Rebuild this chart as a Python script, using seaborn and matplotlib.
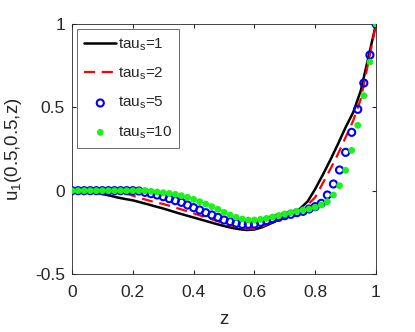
import numpy as np
import pandas as pd
import matplotlib
matplotlib.use("Agg")
import matplotlib.pyplot as plt
import seaborn as sns

# lines (tau_s = 1, 2)
z_line = [0, 0.025, 0.05, 0.075, 0.1, 0.125, 0.15, 0.175, 0.2, 0.225, 0.25, 0.275, 0.3, 0.325,
          0.35, 0.375, 0.4, 0.425, 0.45, 0.475, 0.5, 0.525, 0.55, 0.575, 0.6, 0.625, 0.65,
          0.675, 0.7, 0.725, 0.75, 0.775, 0.8, 0.825, 0.85, 0.875, 0.9, 0.925, 0.95, 0.975, 1.0]
u_tau1 = [0, 0, -0.003, -0.01, -0.02, -0.03, -0.041, -0.05, -0.058, -0.07, -0.082, -0.095,
          -0.107, -0.121, -0.135, -0.148, -0.161, -0.174, -0.187, -0.2, -0.212, -0.223, -0.231,
          -0.236, -0.233, -0.22, -0.2, -0.178, -0.155, -0.132, -0.108, -0.065, 0.01, 0.095,
          0.185, 0.28, 0.38, 0.47, 0.6, 0.8, 1.0]
u_tau2 = [0, 0, 0, 0, 0, -0.001, -0.005, -0.015, -0.03, -0.045, -0.058, -0.07, -0.08, -0.093,
          -0.107, -0.121, -0.136, -0.151, -0.166, -0.181, -0.196, -0.21, -0.222, -0.229, -0.228,
          -0.215, -0.195, -0.175, -0.156, -0.138, -0.12, -0.085, -0.04, 0.045, 0.13, 0.22, 0.32,
          0.42, 0.55, 0.77, 1.0]

# markers (tau_s = 5, 10), z step 0.02
z_pts = [round(0.02 * i, 2) for i in range(51)]
u_tau5 = [0, 0, 0, 0, 0, 0, 0, 0, 0, 0,
          0, -0.002, -0.01, -0.018, -0.026, -0.036, -0.048, -0.06, -0.07, -0.086,
          -0.102, -0.116, -0.132, -0.146, -0.16, -0.176, -0.186, -0.196, -0.202, -0.202,
          -0.2, -0.19, -0.18, -0.17, -0.16, -0.15, -0.142, -0.132, -0.124, -0.11,
          -0.096, -0.076, -0.026, 0.04, 0.124, 0.23, 0.35, 0.488, 0.646, 0.814, 1.0]
u_tau10 = [0, 0, 0, 0, 0, 0, 0, 0, 0, 0,
           0, 0, 0, -0.004, -0.008, -0.012, -0.016, -0.022, -0.03, -0.04,
           -0.052, -0.066, -0.08, -0.096, -0.112, -0.13, -0.146, -0.16, -0.17, -0.176,
           -0.176, -0.172, -0.166, -0.158, -0.15, -0.14, -0.132, -0.124, -0.116, -0.11,
           -0.1, -0.086, -0.066, -0.026, 0.03, 0.122, 0.242, 0.392, 0.57, 0.772, 1.0]

xticks = [0, 0.2, 0.4, 0.6, 0.8, 1]
yticks = [-0.5, 0, 0.5, 1]

sns.set_style("ticks")
plt.rcParams['font.family'] = ['Liberation Sans', 'DejaVu Sans']
plt.rcParams['mathtext.fontset'] = 'custom'
plt.rcParams['mathtext.rm'] = 'Liberation Sans'
plt.rcParams['mathtext.it'] = 'Liberation Sans'

gris = (0.15, 0.15, 0.15)

fig = plt.figure(figsize=(4.15, 3.32), dpi=100)
ax = fig.add_axes([0.1735, 0.1747, 0.7325, 0.753])

sns.lineplot(x=z_line, y=u_tau1, ax=ax, color='black', linewidth=1.8, label='tau$_s$=1')
sns.lineplot(x=z_line, y=u_tau2, ax=ax, color='red', linewidth=1.6, linestyle=(0, (5, 3)),
             label='tau$_s$=2')
sns.scatterplot(x=z_pts, y=u_tau5, ax=ax, marker='o', facecolor='none', edgecolor='blue',
                linewidth=1.5, s=26, label='tau$_s$=5', zorder=3)
sns.scatterplot(x=z_pts, y=u_tau10, ax=ax, marker='o', color=(0.1, 0.95, 0.1),
                edgecolor='none', s=24, label='tau$_s$=10', zorder=4)

ax.set_xlim(0, 1)
ax.set_ylim(-0.5, 1)
ax.set_xticks(xticks)
ax.set_xticklabels(['0', '0.2', '0.4', '0.6', '0.8', '1'])
ax.set_yticks(yticks)
ax.set_yticklabels(['-0.5', '0', '0.5', '1'])
ax.tick_params(direction='in', top=True, right=True, labelsize=12.5, colors=gris, length=3)
ax.tick_params(axis='x', pad=8)
ax.tick_params(axis='y', pad=5)
for sp in ax.spines.values():
    sp.set_visible(True)
    sp.set_color(gris)
    sp.set_linewidth(0.6)

ax.set_xlabel('z', fontsize=13.5, color=gris, labelpad=8)
ax.set_ylabel('u$_1$(0.5,0.5,z)', fontsize=13.5, color=gris, labelpad=8)

leg = ax.legend(loc='upper left', fontsize=11, frameon=True, fancybox=False,
                handlelength=2.1, handletextpad=0.1, borderaxespad=0.35, labelspacing=0.85,
                borderpad=0.45)
leg.get_frame().set_edgecolor(gris)
leg.get_frame().set_linewidth(0.6)

fig.savefig('out.png', dpi=100)
